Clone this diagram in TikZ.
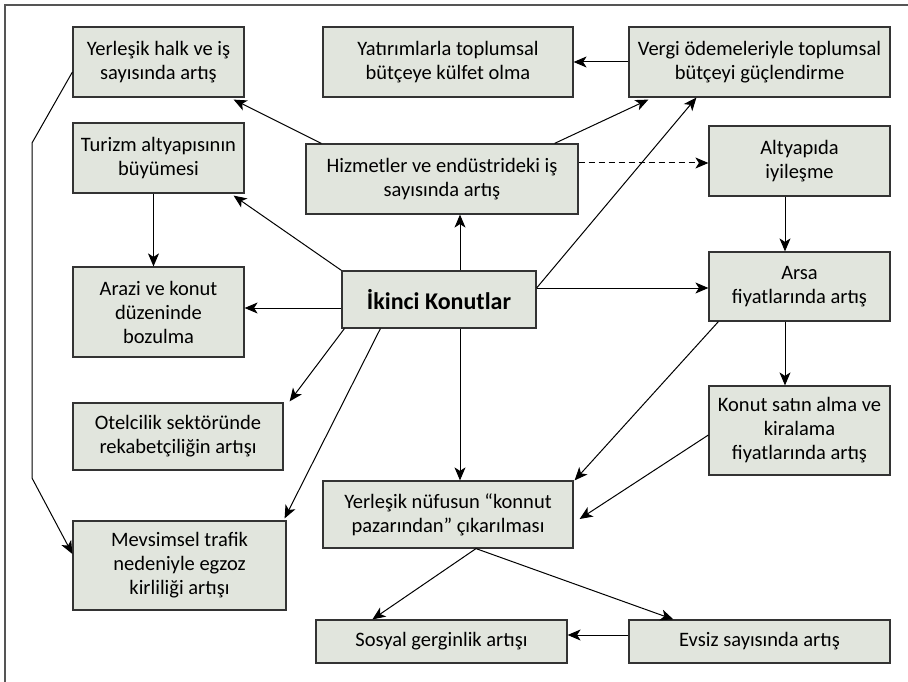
\documentclass[tikz,border=0pt]{standalone}
\usepackage{fontspec}
\setmainfont{Carlito}
\usetikzlibrary{arrows.meta,calc}
\definecolor{boxfill}{HTML}{E1E5DD}
\definecolor{boxline}{HTML}{333333}
\definecolor{framecol}{HTML}{555555}
\tikzset{
  box/.style={draw=boxline, line width=1.2pt, fill=boxfill, align=center,
    inner sep=0pt, font=\fontsize{20.5}{24}\selectfont},
  conn/.style={line width=1pt, draw=black, -{Stealth[length=13pt,width=11pt,inset=3.5pt]}},
}
\newcommand{\bx}[6]{% name, x1, y1, x2, y2, text
  \node[box, minimum width={(#4-#2)*1pt}, minimum height={(#5-#3)*1pt}]
    (#1) at ({(#2+#4)/2},{(#3+#5)/2}) {#6};}
\begin{document}
\begin{tikzpicture}[x=1pt,y=-1pt]
\useasboundingbox (0,0) rectangle (908,682);
\draw[framecol, line width=1.2pt] (5,682) -- (5,5) -- (908,5);

\bx{halk}{73}{27}{244}{97}{Yerleşik halk ve iş\\sayısında artış}
\bx{yatir}{323}{27}{573}{97}{Yatırımlarla toplumsal\\bütçeye külfet olma}
\bx{vergi}{629}{27}{890}{97}{Vergi ödemeleriyle toplumsal\\bütçeyi güçlendirme}
\bx{turizm}{73}{123}{244}{193}{Turizm altyapısının\\büyümesi}
\bx{hizmet}{306}{144}{578}{214}{Hizmetler ve endüstrideki iş\\sayısında artış}
\bx{altyapi}{709}{126}{890}{196}{Altyapıda\\iyileşme}
\bx{arazi}{73}{267}{244}{357}{Arazi ve konut\\düzeninde\\bozulma}
\bx{ikinci}{342}{271}{536}{328}{\bfseries\fontsize{24}{26}\selectfont İkinci Konutlar}
\bx{arsa}{709}{252}{890}{321}{Arsa\\fiyatlarında artış}
\bx{otel}{73}{403}{283}{470}{Otelcilik sektöründe\\rekabetçiliğin artışı}
\bx{konut}{709}{386}{890}{475}{Konut satın alma ve\\kiralama\\fiyatlarında artış}
\bx{nufus}{323}{481}{573}{548}{Yerleşik nüfusun “konnut\\pazarından” çıkarılması}
\bx{mevsim}{73}{521}{286}{610}{Mevsimsel trafik\\nedeniyle egzoz\\kirliliği artışı}
\bx{sosyal}{316}{620}{567}{663}{Sosyal gerginlik artışı}
\bx{evsiz}{629}{620}{890}{663}{Evsiz sayısında artış}

\coordinate (c1) at (32,143);
\coordinate (c2) at (32,478);

% connectors
\draw[conn] ([xshift=16pt]hizmet.north west) -- ([xshift=-11pt,yshift=-2pt]halk.south east);
\draw[conn] ([xshift=-24pt]hizmet.north east) -- ([xshift=20pt,yshift=-2pt]vergi.south west);
\draw[conn] (vergi.west) -- (yatir.east);
\draw[conn, dash pattern=on 6pt off 4pt] ([yshift=16pt]hizmet.east) -- ([yshift=16pt]hizmet.east -| altyapi.west);
\draw[conn] ([xshift=21pt]ikinci.north) -- ([xshift=21pt]ikinci.north |- hizmet.south);
\draw[conn] ([yshift=11.5pt]ikinci.east) -- ([xshift=68pt]vergi.south west);
\draw[conn] ([yshift=11.5pt]ikinci.east) -- ([yshift=11.5pt]ikinci.east -| arsa.west);
\draw[conn] (ikinci.north west) -- ([xshift=-11pt,yshift=-2pt]turizm.south east);
\draw[conn] ([yshift=-8.5pt]ikinci.west) -- ([yshift=-8.5pt]ikinci.west -| arazi.east);
\draw[conn] ([xshift=-5pt]turizm.south) -- ([xshift=-5pt]turizm.south |- arazi.north);
\draw[conn] ([xshift=-14.5pt]altyapi.south) -- ([xshift=-14.5pt]altyapi.south |- arsa.north);
\draw[conn] ([xshift=-14.5pt]arsa.south) -- ([xshift=-14.5pt]arsa.south |- konut.north);
\draw[conn] ([xshift=10pt]arsa.south west) -- ([xshift=1pt]nufus.north east);
\draw[conn] ([yshift=-4.5pt]konut.west) -- ([xshift=6pt,yshift=-4.5pt]nufus.east);
\draw[conn] ([xshift=21pt]ikinci.south) -- ([xshift=21pt]ikinci.south |- nufus.north);
\draw[conn] ([xshift=3pt]ikinci.south west) -- ([xshift=6pt,yshift=1pt]otel.north east);
\draw[conn] ([xshift=39pt]ikinci.south west) -- ([xshift=-2pt,yshift=2pt]mevsim.north east);
\draw[conn] ([yshift=-10pt]halk.west) -- (c1) -- (c2) -- ([yshift=11.5pt]mevsim.west);
\draw[conn] ([xshift=28pt]nufus.south) -- ([xshift=57pt]sosyal.north west);
\draw[conn] ([xshift=28pt]nufus.south) -- ([xshift=45pt]evsiz.north west);
\draw[conn] ([yshift=6.5pt]evsiz.west) -- ([yshift=6.5pt]evsiz.west -| sosyal.east);
\end{tikzpicture}
\end{document}
